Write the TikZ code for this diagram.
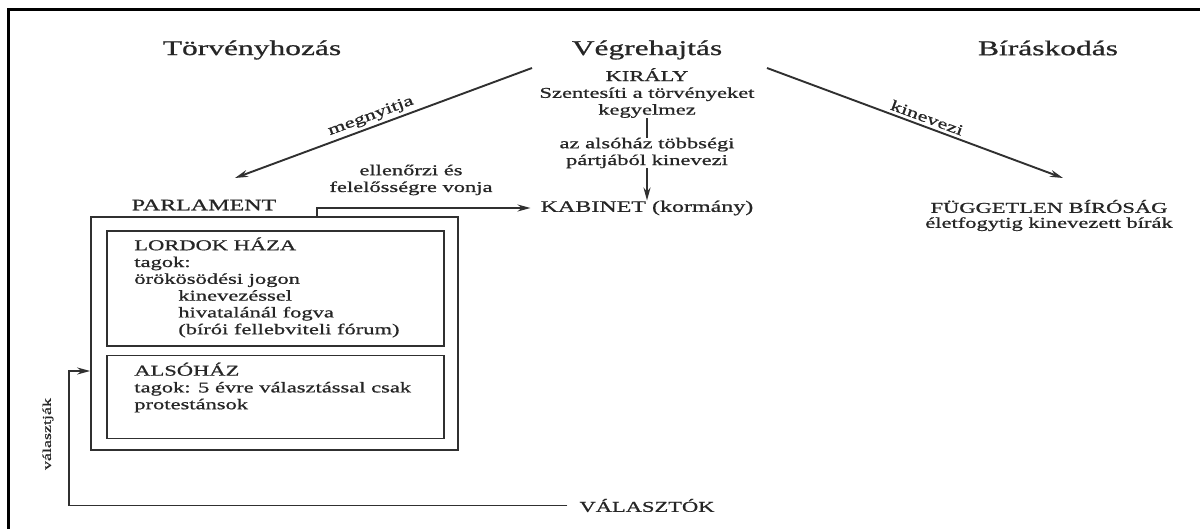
\documentclass[tikz,border=0pt]{standalone}
\usepackage{fontspec}
\setmainfont{Liberation Serif}[FakeStretch=1.5,FakeBold=0.9]
\usetikzlibrary{arrows.meta,positioning}
\definecolor{ink}{HTML}{262626}
\definecolor{rule}{HTML}{303030}
\newcommand{\headsize}{\fontsize{21}{25}\selectfont}
\newcommand{\bodysize}{\fontsize{15}{16.8}\selectfont}
\newcommand{\capsize}{\fontsize{16}{18}\selectfont}
\newcommand{\vertsize}{\fontsize{12}{14}\selectfont}
\tikzset{
  >={Stealth[length=13pt,width=7pt]},
  heading/.style={font=\headsize, text=ink, inner sep=0pt},
  lbl/.style={font=\bodysize, text=ink, inner sep=0pt, align=center},
  house/.style={draw=rule, line width=1.7pt, minimum width=337pt},
  link/.style={draw=rule, line width=1.9pt},
}
\begin{document}
\begin{tikzpicture}[x=1pt, y=-1pt]
    \useasboundingbox (0,0) rectangle (1200,529);
    \draw[line width=3pt] (1200,10) -- (8.5,10) -- (8.5,529);

    % the three powers
    \node[heading] (law) at (252,50) {Törvényhozás};
    \node[heading] (exe) at (647,50) {Végrehajtás};
    \node[heading] (jus) at (1048,48) {Bíráskodás};

    % executive
    \node[lbl] (king) at (647,93) {KIRÁLY\\Szentesíti a törvényeket\\kegyelmez};
    \node[lbl] (party) at (647,153) {az alsóház többségi\\pártjából kinevezi};
    \node[lbl, font=\capsize] (cab) at (647,208) {KABINET (kormány)};
    \draw[link] (king) -- (party);
    \draw[link,->] (party) -- (cab);

    % judiciary
    \node[lbl] (court) at (1049,215.5) {FÜGGETLEN BÍRÓSÁG\\[-1.8pt]életfogytig kinevezett bírák};

    % parliament
    \node[lbl, font=\capsize] (parl) at (204,205) {PARLAMENT};
    \node[house, minimum width=367pt, minimum height=233pt] (parlament) at (274.5,333.5) {};
    \node[house, minimum height=115pt] (lords) at (275.5,288.5) {};
    \node[house, minimum height=83pt, below=7.7pt of lords] (commons) {};
    \node[lbl, align=left, below right=7pt and 28pt of lords.north west] (lordstxt) {LORDOK HÁZA\\tagok:\\örökösödési jogon\\\hspace*{44pt}kinevezéssel\\\hspace*{44pt}hivatalánál fogva\\\hspace*{44pt}(bírói fellebviteli fórum)};
    \node[lbl, align=left, below right=8pt and 28pt of commons.north west] (commonstxt) {ALSÓHÁZ\\tagok: 5 évre választással csak\\protestánsok};

    % control of the cabinet
    \node[lbl] (control) at (411,180) {ellenőrzi és\\felelősségre vonja};
    \coordinate (ctl) at (317,217);
    \draw[link,->,shorten >=10pt] (ctl) |- (cab.west);

    % king opens parliament, appoints judges
    \coordinate (meg-a) at (532,68);
    \coordinate (meg-b) at (235,178);
    \draw[link,->] (meg-a) -- node[lbl, sloped, above=3pt, pos=0.53] (megl) {megnyitja} (meg-b);
    \coordinate (kin-a) at (767,68);
    \coordinate (kin-b) at (1063,178);
    \draw[link,->] (kin-a) -- node[lbl, sloped, above=3pt, pos=0.53] (kinl) {kinevezi} (kin-b);

    % voters
    \node[lbl] (voters) at (647,505.5) {VÁLASZTÓK};
    \coordinate (vc) at (69,371);
    \draw[link,->,shorten <=12pt] (voters.west) -| (vc) -- (vc -| parlament.west);
    \node[lbl, rotate=90, font=\vertsize] (elect) at (48,434) {választják};
\end{tikzpicture}
\end{document}
